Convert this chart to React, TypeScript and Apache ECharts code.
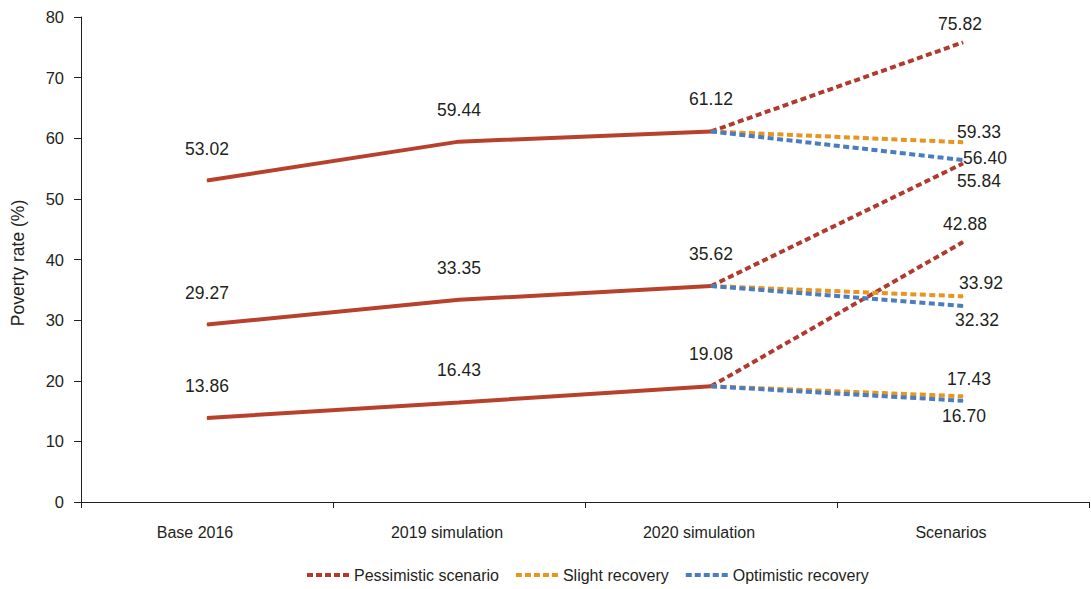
import React, { useEffect, useRef } from "react";
import * as echarts from "echarts";

const categories = ["Base 2016", "2019 simulation", "2020 simulation", "Scenarios"];
const upperLine = [53.02, 59.44, 61.12];
const middleLine = [29.27, 33.35, 35.62];
const lowerLine = [13.86, 16.43, 19.08];
const pessimistic = [75.82, 55.84, 42.88];
const slight = [59.33, 33.92, 17.43];
const optimistic = [56.4, 32.32, 16.7];
const yTicks = { min: 0, max: 80, interval: 10 };

const FONT = "'Liberation Sans', Arial, sans-serif";
const TEXT = "#231f20";
const SOLID = "#b7412c";
const RED = "#b03a2e";
const ORANGE = "#e8951f";
const BLUE = "#4a7dbf";

// label offsets (layout only) for scenario end points, per level [upper, middle, lower]
const pessOffsets = [[-3, -18], [16, 18], [2, -18]];
const slightOffsets = [[16, -10], [18, -13], [6, -17]];
const optOffsets = [[22, -2], [14, 14], [1, 15]];

const dashIcon = "path://M0,0h6v4h-6z M9,0h6v4h-6z M18,0h6v4h-6z M27,0h6v4h-6z M36,0h6v4h-6z";

export default function App() {
  const ref = useRef<HTMLDivElement>(null);
  useEffect(() => {
    const chart = echarts.init(ref.current!, null, { renderer: "svg" });
    const baseLevels = [upperLine, middleLine, lowerLine];
    const labelFont = { fontFamily: FONT, fontSize: 17.5, color: TEXT };

    const solidSeries = baseLevels.map((lvl, i) => ({
      name: "level" + i,
      type: "line",
      data: lvl.map((v) => v),
      symbol: "circle",
      symbolSize: 1,
      showSymbol: true,
      lineStyle: { color: SOLID, width: 4 },
      itemStyle: { color: SOLID },
      label: {
        show: true,
        position: "inside",
        offset: [0, -32],
        formatter: (p: any) => Number(p.value).toFixed(2),
        ...labelFont,
      },
      z: 2,
    }));

    const makeScenario = (name: string, color: string, vals: number[], offsets: number[][]) =>
      vals.map((v, i) => ({
        name,
        type: "line",
        symbol: "circle",
        symbolSize: 1,
        showSymbol: true,
        lineStyle: { color, width: 4, type: [6, 3.5] },
        itemStyle: { color },
        data: [
          null,
          null,
          { value: baseLevels[i][2], label: { show: false } },
          {
            value: v,
            label: {
              show: true,
              position: "inside",
              offset: offsets[i],
              formatter: (p: any) => Number(p.value).toFixed(2),
              ...labelFont,
            },
          },
        ],
        z: 3,
      }));

    const option: any = {
      animation: false,
      backgroundColor: "#ffffff",
      textStyle: { fontFamily: FONT, color: TEXT },
      grid: { left: 81, right: 2, top: 17, bottom: 87, containLabel: false },
      legend: {
        top: 562,
        left: 302,
        itemWidth: 42,
        itemHeight: 4,
        itemGap: 17,
        textStyle: { fontFamily: FONT, fontSize: 16, color: TEXT },
        data: [
          { name: "Pessimistic scenario", icon: dashIcon, itemStyle: { color: RED } },
          { name: "Slight recovery", icon: dashIcon, itemStyle: { color: ORANGE } },
          { name: "Optimistic recovery", icon: dashIcon, itemStyle: { color: BLUE } },
        ],
      },
      xAxis: {
        type: "category",
        data: categories,
        boundaryGap: true,
        axisLine: { lineStyle: { color: TEXT, width: 1 } },
        axisTick: { show: true, length: 6, lineStyle: { color: TEXT } },
        axisLabel: {
          fontFamily: FONT,
          fontSize: 16,
          color: TEXT,
          margin: 22,
          padding: [0, 24, 0, 0],
        },
      },
      yAxis: {
        type: "value",
        min: yTicks.min,
        max: yTicks.max,
        interval: yTicks.interval,
        splitLine: { show: false },
        axisLine: { show: true, lineStyle: { color: TEXT, width: 1 } },
        axisTick: { show: true, length: 7, lineStyle: { color: TEXT } },
        axisLabel: { fontFamily: FONT, fontSize: 16.5, color: TEXT, margin: 17 },
      },
      graphic: [
        {
          type: "text",
          x: 18,
          y: 263,
          rotation: Math.PI / 2,
          style: {
            text: "Poverty rate (%)",
            fontFamily: FONT,
            fontSize: 17.5,
            fill: TEXT,
            align: "center",
            verticalAlign: "middle",
          },
        },
      ],
      series: [
        ...solidSeries,
        ...makeScenario("Pessimistic scenario", RED, pessimistic, pessOffsets),
        ...makeScenario("Slight recovery", ORANGE, slight, slightOffsets),
        ...makeScenario("Optimistic recovery", BLUE, optimistic, optOffsets),
      ],
    };
    chart.setOption(option);
    return () => chart.dispose();
  }, []);
  return (
    <div
      ref={ref}
      style={{ position: "fixed", left: 0, top: 0, width: 1091, height: 589, background: "#fff" }}
    />
  );
}
